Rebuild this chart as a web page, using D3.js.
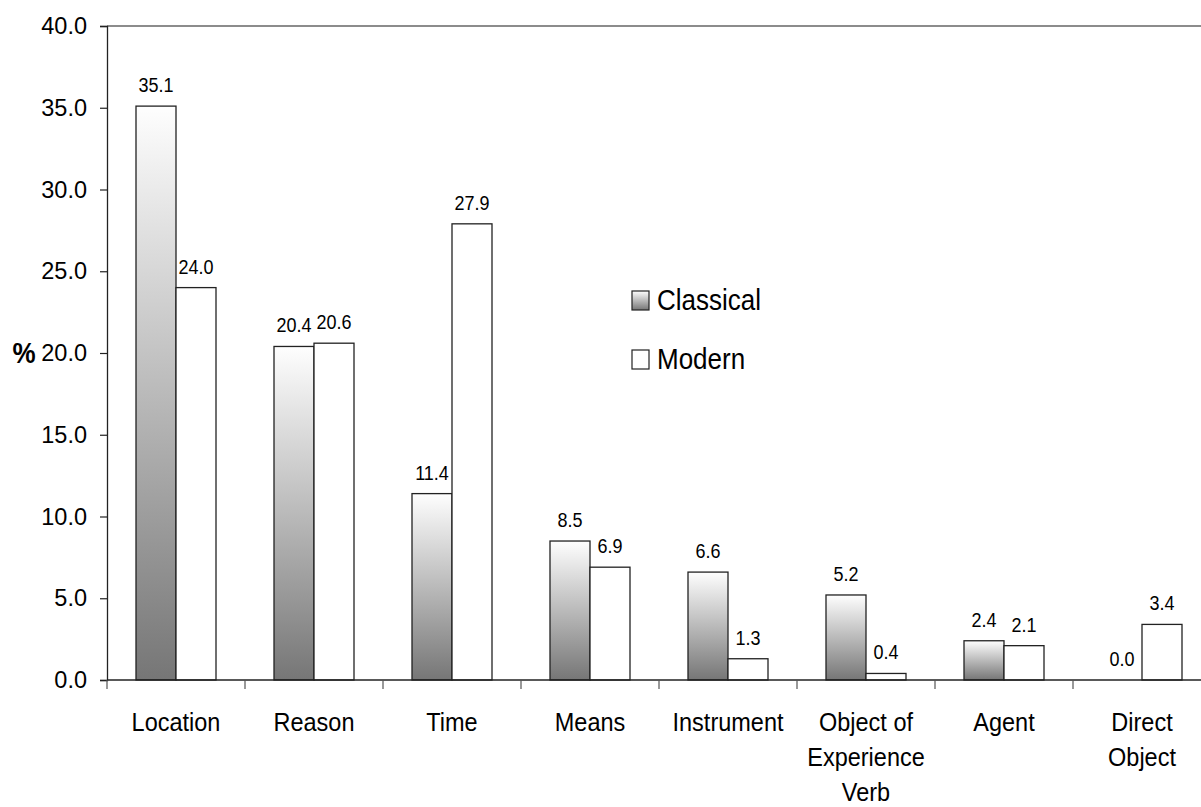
<!DOCTYPE html>
<html>
<head>
<meta charset="utf-8">
<script src="https://cdn.jsdelivr.net/npm/d3@7"></script>
<style>
  html, body { margin: 0; padding: 0; background: #fff; }
  svg { display: block; font-family: "Liberation Sans", Arial, sans-serif; }
</style>
</head>
<body>
<svg id="chart" width="1201" height="807"></svg>
<script>
const categories = ["Location", "Reason", "Time", "Means", "Instrument", "Object of Experience Verb", "Agent", "Direct Object"];
const categoryLabelLines = [["Location"], ["Reason"], ["Time"], ["Means"], ["Instrument"], ["Object of", "Experience", "Verb"], ["Agent"], ["Direct", "Object"]];
const series = ["Classical", "Modern"];
const classicalValues = [35.1, 20.4, 11.4, 8.5, 6.6, 5.2, 2.4, 0.0];
const modernValues = [24.0, 20.6, 27.9, 6.9, 1.3, 0.4, 2.1, 3.4];
const yTicks = [0, 5, 10, 15, 20, 25, 30, 35, 40];
const yLabel = "%";

const svg = d3.select("#chart");
const plot = { left: 107, top: 26, bottom: 680, step: 138 };

const x0 = d3.scaleBand().domain(categories)
  .range([plot.left, plot.left + plot.step * categories.length])
  .paddingInner(0).paddingOuter(0);
const x1 = d3.scaleBand().domain(series)
  .range([0, x0.bandwidth()]).paddingInner(0).paddingOuter(0.725);
const y = d3.scaleLinear().domain([0, 40]).range([plot.bottom, plot.top]);

// gradient
const defs = svg.append("defs");
const grad = defs.append("linearGradient").attr("id", "classicalGrad")
  .attr("x1", 0).attr("y1", 0).attr("x2", 0).attr("y2", 1);
grad.append("stop").attr("offset", "0%").attr("stop-color", "#fefefe");
grad.append("stop").attr("offset", "100%").attr("stop-color", "#767676");

// top border line
svg.append("line").attr("x1", plot.left).attr("x2", 1201)
  .attr("y1", y(40)).attr("y2", y(40))
  .attr("stroke", "#666").attr("stroke-width", 1.3);

// bars
const data = categories.map((c, i) => ({ c, vals: [
  { s: "Classical", v: classicalValues[i] },
  { s: "Modern", v: modernValues[i] }
]}));

const groups = svg.append("g").selectAll("g").data(data).join("g")
  .attr("transform", d => `translate(${x0(d.c)},0)`);

groups.selectAll("rect").data(d => d.vals.filter(e => e.v > 0)).join("rect")
  .attr("x", e => x1(e.s))
  .attr("y", e => y(e.v))
  .attr("width", x1.bandwidth())
  .attr("height", e => y(0) - y(e.v))
  .attr("fill", e => e.s === "Classical" ? "url(#classicalGrad)" : "#fff")
  .attr("stroke", "#222").attr("stroke-width", 1.3);

groups.selectAll("text.val").data(d => d.vals).join("text")
  .attr("class", "val")
  .attr("text-anchor", "middle")
  .attr("font-size", 18)
  .attr("fill", "#000")
  .attr("transform", e => `translate(${x1(e.s) + x1.bandwidth() / 2},${y(e.v) - 14}) scale(1,1.15)`)
  .text(e => d3.format(".1f")(e.v));

// y axis
const yAxis = svg.append("g").attr("transform", `translate(${plot.left},0)`)
  .call(d3.axisLeft(y).tickValues(yTicks).tickFormat(d3.format(".1f")).tickSize(7).tickPadding(13));
yAxis.select(".domain").attr("stroke", "#222").attr("stroke-width", 1.3);
yAxis.selectAll(".tick line").attr("stroke", "#222").attr("stroke-width", 1.2);
yAxis.selectAll(".tick text").attr("font-size", 23.5).attr("fill", "#000")
  .attr("font-family", "'Liberation Sans', Arial, sans-serif");

// x axis
const xAxis = svg.append("g").attr("transform", `translate(0,${plot.bottom})`);
xAxis.append("line").attr("x1", plot.left).attr("x2", 1201)
  .attr("y1", 0).attr("y2", 0).attr("stroke", "#222").attr("stroke-width", 1.3);
const boundaries = categories.map(c => x0(c));
xAxis.selectAll("line.tk").data(boundaries).join("line").attr("class", "tk")
  .attr("x1", d => d).attr("x2", d => d).attr("y1", 0).attr("y2", 9)
  .attr("stroke", "#555").attr("stroke-width", 1.2);

const catLabels = svg.append("g").selectAll("g").data(categories).join("g");
catLabels.each(function(c, i) {
  const g = d3.select(this);
  categoryLabelLines[i].forEach((line, j) => {
    g.append("text")
      .attr("text-anchor", "middle")
      .attr("font-size", 23.5)
      .attr("fill", "#000")
      .attr("transform", `translate(${x0(c) + x0.bandwidth() / 2},${731 + j * 35}) scale(1,1.1)`)
      .text(line);
  });
});

// y label
svg.append("text")
  .attr("transform", `translate(24,${y(20) + 10}) scale(1,1.1)`)
  .attr("text-anchor", "middle")
  .attr("font-weight", "bold")
  .attr("font-size", 26)
  .text(yLabel);

// legend
const legend = svg.append("g").attr("transform", "translate(632,291)");
series.forEach((s, i) => {
  const g = legend.append("g").attr("transform", `translate(0,${i * 59})`);
  g.append("rect").attr("x", 0).attr("y", 0).attr("width", 17).attr("height", 19)
    .attr("fill", s === "Classical" ? "url(#classicalGrad)" : "#fff")
    .attr("stroke", "#222").attr("stroke-width", 1.2);
  g.append("text")
    .attr("transform", `translate(25,${19}) scale(1,1.1)`)
    .attr("font-size", 26)
    .attr("fill", "#000")
    .text(s);
});
</script>
</body>
</html>
